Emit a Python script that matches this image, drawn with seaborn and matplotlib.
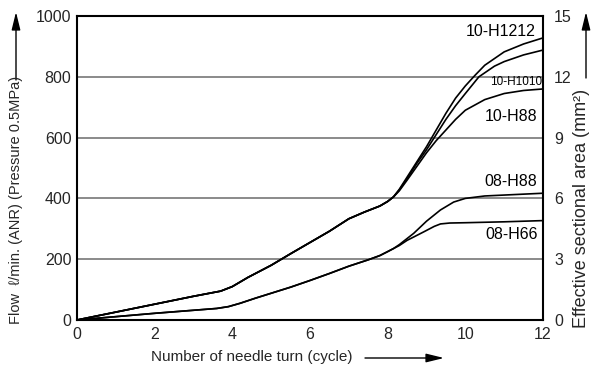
import matplotlib
matplotlib.use("Agg")
import matplotlib.pyplot as plt
from matplotlib.patches import FancyArrowPatch
import seaborn as sns
import pandas as pd

# ---- data ----
base10_x = [0, 1, 2, 3, 3.7, 4.0, 4.4, 5.0, 5.5, 6.0, 6.5, 7.0, 7.4, 7.8, 8.0, 8.15]
base10_y = [0, 26, 52, 78, 95, 110, 140, 180, 218, 255, 292, 333, 355, 375, 390, 405]

h1212_x = [8.3, 8.5, 8.75, 9.0, 9.25, 9.5, 9.75, 10.0, 10.25, 10.5, 11.0, 11.5, 12.0]
h1212_y = [430, 470, 520, 570, 625, 680, 730, 770, 805, 838, 882, 908, 928]

h1010_x = [8.3, 8.5, 8.75, 9.0, 9.25, 9.5, 9.75, 10.0, 10.35, 10.75, 11.0, 11.5, 12.0]
h1010_y = [428, 465, 515, 560, 610, 660, 705, 745, 800, 835, 850, 872, 888]

h88_10_x = [8.3, 8.5, 8.75, 9.0, 9.25, 9.5, 9.75, 10.0, 10.5, 11.0, 11.5, 12.0]
h88_10_y = [425, 460, 505, 550, 590, 625, 660, 690, 725, 745, 755, 760]

base08_x = [0, 1, 2, 3, 3.6, 3.9, 4.2, 4.6, 5.0, 5.5, 6.0, 6.5, 7.0, 7.5, 7.8, 8.0, 8.15]
base08_y = [0, 11, 22, 32, 38, 44, 55, 72, 88, 108, 130, 153, 177, 198, 212, 225, 235]

h88_08_x = [8.3, 8.5, 8.67, 9.0, 9.36, 9.7, 10.0, 10.5, 11.0, 11.5, 12.0]
h88_08_y = [248, 268, 285, 325, 362, 388, 400, 408, 411, 414, 417]

h66_08_x = [8.3, 8.5, 8.67, 8.93, 9.2, 9.36, 9.6, 10.0, 11.0, 12.0]
h66_08_y = [245, 262, 273, 290, 308, 316, 319, 320, 323, 327]

series_names = ["10-H1212", "10-H1010", "10-H88", "08-H88", "08-H66"]
label_pos = {  # (x, y) anchor for the right-aligned labels, in data units
    "10-H1212": (11.82, 950),
    "10-H1010": (11.98, 783),
    "10-H88": (11.85, 670),
    "08-H88": (11.85, 457),
    "08-H66": (11.87, 280),
}

x_ticks = [0, 2, 4, 6, 8, 10, 12]
y_ticks = [0, 200, 400, 600, 800, 1000]
y2_ticks = [0, 3, 6, 9, 12, 15]

# ---- build the table ----
frames = []
tails = [(h1212_x, h1212_y, base10_x, base10_y),
         (h1010_x, h1010_y, base10_x, base10_y),
         (h88_10_x, h88_10_y, base10_x, base10_y),
         (h88_08_x, h88_08_y, base08_x, base08_y),
         (h66_08_x, h66_08_y, base08_x, base08_y)]
for name, (tx, ty, bx, by) in zip(series_names, tails):
    frames.append(pd.DataFrame({"turn": bx + tx, "flow": by + ty, "model": name}))
df = pd.concat(frames, ignore_index=True)

sns.set_style("white")
plt.rcParams["font.family"] = ["Liberation Sans", "DejaVu Sans"]

fig = plt.figure(figsize=(5.92, 3.67), dpi=100)
ax = fig.add_axes([77 / 592, 1 - 320 / 367, (543 - 77) / 592, (320 - 16) / 367])

for y in [200, 400, 600, 800]:
    ax.axhline(y, color="#8a8a8a", lw=1.4, zorder=1)

for name in series_names:
    sub = df[df["model"] == name]
    sns.lineplot(data=sub, x="turn", y="flow", ax=ax, color="black", lw=1.2,
                 sort=True, estimator=None, zorder=3)

ax.set_xlim(0, 12)
ax.set_ylim(0, 1000)
ax.set_xticks(x_ticks)
ax.set_yticks(y_ticks)
ax.tick_params(axis="x", direction="in", length=5, width=1.3, labelsize=11.5, pad=5, color="black")
ax.tick_params(axis="y", length=0, labelsize=11.5, pad=4)
ax.set_xlabel("")
ax.set_ylabel("")
for sp in ax.spines.values():
    sp.set_color("black")
    sp.set_linewidth(1.5)

for name in series_names:
    x, y = label_pos[name]
    fs = 8.5 if name == "10-H1010" else 11.5
    ax.text(x, y, name, ha="right", va="center", fontsize=fs, color="black",
            zorder=4)

ax2 = ax.twinx()
ax2.set_ylim(0, 15)
ax2.set_yticks(y2_ticks)
ax2.tick_params(axis="y", length=0, labelsize=11.5, pad=8)
for sp in ax2.spines.values():
    sp.set_visible(False)

# axis titles with arrows
fig.text(16 / 592, 1 - 200 / 367, "Flow  \u2113/min. (ANR) (Pressure 0.5MPa)",
         rotation=90, ha="center", va="center", fontsize=10.5)
fig.text(582 / 592, 1 - 208 / 367, "Effective sectional area (mm\u00b2)",
         rotation=90, ha="center", va="center", fontsize=13)
fig.text(252 / 592, 1 - 357 / 367, "Number of needle turn (cycle)",
         ha="center", va="center", fontsize=11)

arrow = dict(arrowstyle="-|>,head_length=0.9,head_width=0.22", color="black",
             lw=1.0, mutation_scale=12, shrinkA=0, shrinkB=0)
fig.add_artist(FancyArrowPatch(
    (16 / 592, 1 - 80 / 367), (16 / 592, 1 - 12 / 367),
    transform=fig.transFigure, **arrow))
fig.add_artist(FancyArrowPatch(
    (586 / 592, 1 - 78 / 367), (586 / 592, 1 - 12 / 367),
    transform=fig.transFigure, **arrow))
fig.add_artist(FancyArrowPatch(
    (365 / 592, 1 - 358 / 367), (444 / 592, 1 - 358 / 367),
    transform=fig.transFigure, **arrow))

fig.savefig("out.png", dpi=100)
